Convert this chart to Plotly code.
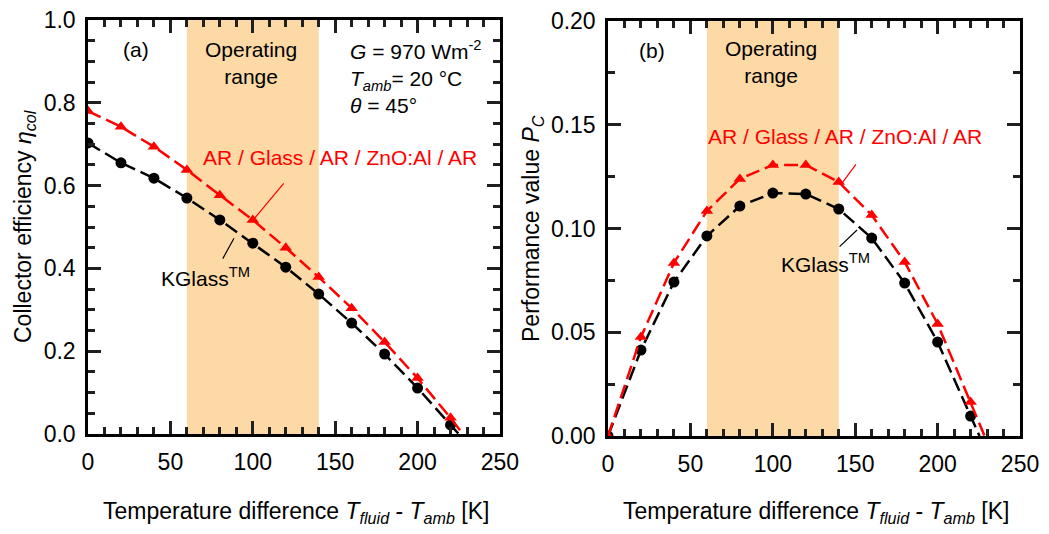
import plotly.graph_objects as go

# ---- data -------------------------------------------------------------
temperature = [0, 20, 40, 60, 80, 100, 120, 140, 160, 180, 200, 220]

# collector efficiency (panel a)
eta_kglass = [0.703, 0.655, 0.618, 0.570, 0.517, 0.461, 0.403, 0.338, 0.268, 0.193, 0.111, 0.022]
eta_ar = [0.780, 0.742, 0.694, 0.638, 0.577, 0.517, 0.450, 0.379, 0.304, 0.222, 0.135, 0.039]

# performance value (panel b)
pc_kglass = [0.0, 0.0414, 0.0742, 0.0964, 0.1108, 0.1171, 0.1166, 0.1094, 0.0954, 0.0737, 0.0453, 0.0096]
pc_ar = [0.0, 0.0477, 0.0834, 0.1084, 0.1239, 0.1306, 0.1306, 0.1224, 0.1065, 0.0839, 0.0540, 0.0164]

# temperature difference where each curve reaches zero
zero_kglass_a, zero_ar_a = 225.0, 227.5
zero_kglass_b, zero_ar_b = 225.4, 228.5

operating_range = [60, 140]

x_range = [0, 250]
eta_range = [0, 1.0]
pc_range = [0, 0.2]

# ---- styling ----------------------------------------------------------
FONT = "Arial, Liberation Sans, sans-serif"
RED = "#FF0000"
BLACK = "black"
TICK = "#202020"
SHADE = "#FDD9A6"
DASH = "14px,6px"

fig = go.Figure()

# shaded operating range (drawn first so it sits under the curves)
for xa, ya, yr in (("x", "y", eta_range), ("x2", "y2", pc_range)):
    lo, hi = operating_range
    fig.add_trace(go.Scatter(
        x=[lo, lo, hi, hi, lo], y=[yr[0], yr[1], yr[1], yr[0], yr[0]],
        mode="lines", fill="toself", fillcolor=SHADE, line=dict(width=0),
        hoverinfo="skip", showlegend=False, xaxis=xa, yaxis=ya,
    ))


def add_curve(x, y, x0, color, symbol, xa, ya):
    xs = list(x) + [x0]
    ys = list(y) + [0.0]
    sizes = [11] * len(x) + [0]
    fig.add_trace(go.Scatter(
        x=xs, y=ys, mode="lines+markers",
        line=dict(color=color, width=2.5, dash=DASH),
        marker=dict(color=color, size=sizes, symbol=symbol, opacity=1,
                    line=dict(width=0, color=color)),
        xaxis=xa, yaxis=ya, showlegend=False,
    ))


add_curve(temperature, eta_kglass, zero_kglass_a, BLACK, "circle", "x", "y")
add_curve(temperature, eta_ar, zero_ar_a, RED, "triangle-up", "x", "y")
add_curve(temperature, pc_kglass, zero_kglass_b, BLACK, "circle", "x2", "y2")
add_curve(temperature, pc_ar, zero_ar_b, RED, "triangle-up", "x2", "y2")

tick_font = dict(family=FONT, size=23, color="black")


def axis_common(dtick, minor_step, fmt):
    return dict(
        showline=True, linecolor="black", linewidth=2.5, mirror="allticks",
        ticks="inside", ticklen=13, tickwidth=3, tickcolor=TICK,
        tickmode="linear", tick0=0, dtick=dtick, tickformat=fmt,
        minor=dict(tickmode="linear", tick0=0, dtick=minor_step, ticklen=7,
                   tickwidth=3, ticks="inside", tickcolor=TICK),
        showgrid=False, zeroline=False, tickfont=tick_font, automargin=False,
        layer="above traces",
    )


fig.update_layout(
    template="none",
    width=1049, height=534,
    margin=dict(l=0, r=0, t=0, b=0, autoexpand=False),
    xaxis=dict(axis_common(50, 10, "d"), domain=[0.0839, 0.4766], anchor="y",
               range=x_range, ticklabelstandoff=6),
    yaxis=dict(axis_common(0.2, 0.05, ".1f"), domain=[0.1873, 0.9625], anchor="x",
               range=eta_range, ticklabelstandoff=5),
    xaxis2=dict(axis_common(50, 10, "d"), domain=[0.5796, 0.9724], anchor="y2",
                range=x_range, ticklabelstandoff=6),
    yaxis2=dict(axis_common(0.05, 0.025, ".2f"), domain=[0.1835, 0.9607], anchor="x2",
                range=pc_range, ticklabelstandoff=5),
)

txt = dict(family=FONT, size=21, color=BLACK)
red_txt = dict(family=FONT, size=21, color=RED)
title_font = dict(family=FONT, size=23, color=BLACK)
x_title = "Temperature difference <i>T<sub>fluid</sub></i> - <i>T<sub>amb</sub></i> [K]"
annotations = [
    # panel (a)
    dict(xref="x", yref="y", x=29, y=0.928, text="(a)", font=txt),
    dict(xref="x", yref="y", x=99, y=0.895, text="Operating<br>range", font=txt, align="center"),
    dict(xref="x", yref="y", x=157.8, y=0.862, xanchor="left", align="left", font=txt,
         text="<i>G</i> = 970 Wm<sup>-2</sup><br><i>T<sub>amb</sub></i>= 20 °C<br><i>θ</i> = 45°"),
    dict(xref="x", yref="y", x=152.9, y=0.669, text="AR / Glass / AR / ZnO:Al / AR", font=red_txt),
    dict(xref="x", yref="y", x=71, y=0.379, text="KGlass<sup>TM</sup>", font=txt),
    # panel (b)
    dict(xref="x2", yref="y2", x=26.7, y=0.186, text="(b)", font=txt),
    dict(xref="x2", yref="y2", x=99, y=0.180, text="Operating<br>range", font=txt, align="center"),
    dict(xref="x2", yref="y2", x=143.8, y=0.1441, text="AR / Glass / AR / ZnO:Al / AR", font=red_txt),
    dict(xref="x2", yref="y2", x=131.7, y=0.0834, text="KGlass<sup>TM</sup>", font=txt),
    # axis titles
    dict(xref="paper", yref="paper", x=296 / 1049, y=1 - 512 / 534, text=x_title, font=title_font),
    dict(xref="paper", yref="paper", x=816 / 1049, y=1 - 512 / 534, text=x_title, font=title_font),
    dict(xref="paper", yref="paper", x=24 / 1049, y=1 - 227 / 534, textangle=-90,
         text="Collector efficiency <i>η<sub>col</sub></i>", font=title_font),
    dict(xref="paper", yref="paper", x=532 / 1049, y=1 - 229 / 534, textangle=-90,
         text="Performance value <i>P<sub>C</sub></i>", font=title_font),
]

# pointer lines from the labels to their curves (head end first, then tail)
pointers = [
    ("x", "y", 101.3, 0.522, 119.5, 0.609, RED),
    ("x", "y", 88.6, 0.473, 81.3, 0.420, BLACK),
    ("x2", "y2", 142.0, 0.1219, 151.1, 0.1316, RED),
    ("x2", "y2", 151.1, 0.0993, 139.6, 0.0906, BLACK),
]
for xr, yr, x1, y1, x0, y0, c in pointers:
    annotations.append(dict(
        xref=xr, yref=yr, axref=xr, ayref=yr, x=x1, y=y1, ax=x0, ay=y0, text="",
        showarrow=True, arrowhead=0, arrowwidth=1.2, arrowcolor=c, standoff=0,
    ))

for a in annotations:
    a.setdefault("showarrow", False)
    a.setdefault("xanchor", "center")
    a.setdefault("yanchor", "middle")
fig.update_layout(annotations=annotations)

fig.write_html("out.html")
